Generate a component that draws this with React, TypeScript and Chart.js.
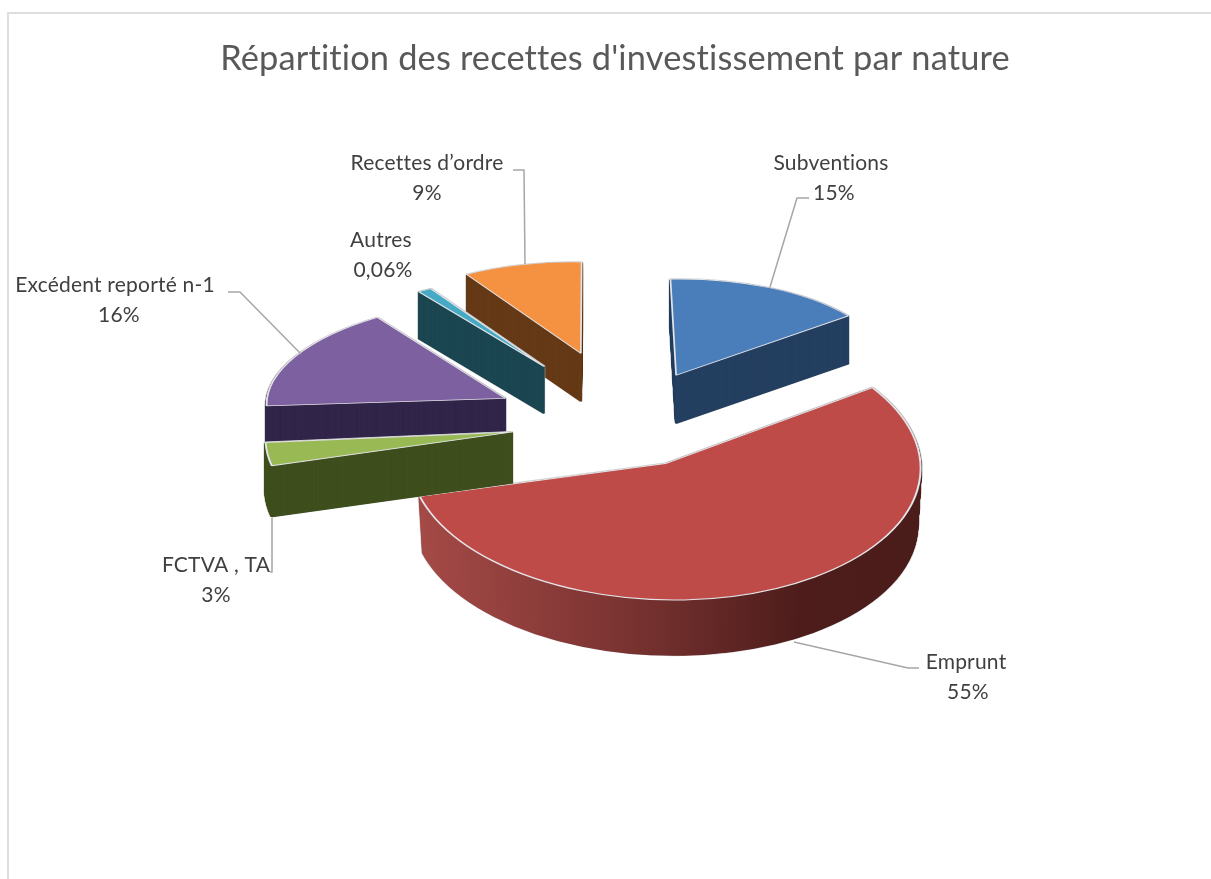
import React, { useEffect, useRef } from "react";
import { Chart, registerables } from "chart.js";

Chart.register(...registerables);

const titleText = "Répartition des recettes d'investissement par nature";
const categories = ["Subventions", "Emprunt", "FCTVA , TA", "Excédent reporté n-1", "Autres", "Recettes d’ordre"];
const percentLabels = ["15%", "55%", "3%", "16%", "0,06%", "9%"];
// Slice sizes as drawn (the "Autres" slice is drawn wider than its printed 0,06%).
const sliceValues = [15, 55, 3, 16, 1, 9];

const topColors = ["#4A7EBB", "#BE4B48", "#98B954", "#7D60A0", "#46AAC4", "#F59242"];
const wallColors = ["#254061", "", "#3F4F1E", "#32264A", "#1C4752", "#663A17"];

// Exploded 3D view of each slice
const explode = [117, 70, 108, 131, 143, 155];
const nudgeX = [-2, 18, 0, 2, 0, -2];
const nudgeY = [-2, -5, -9, -2, 0, 3];
const scaleX = [0.86, 1.02, 0.99, 0.955, 0.9, 0.85];
const flatten = [0.446, 0.535, 0.5, 0.42, 0.4, 0.43];
const shearX = [0.07, 0.05, 0, -0.025, 0, 0.04];
const shearY = [-0.09, -0.015, -0.05, -0.04, 0, 0];
const depth = [48, 57, 51, 48, 47, 48];
const taper = [0, 0.014, 0, 0, 0, 0];
const drawOrder = [5, 4, 0, 3, 1, 2];
const FLAT = 0.55;
const SHIFT_X = 5;

// label placement: [centerX, firstLineY, secondLineCenterX]
const labelPos = [
  [831, 163, 834],
  [966, 662, 968],
  [216, 565, 216],
  [115, 285, 119],
  [381, 240, 383],
  [427, 163, 427],
];
const leaders = [
  [[809, 198], [797, 198], [770, 287]],
  [[919, 668], [908, 668], [794, 642]],
  [[270, 572], [272, 572], [272, 518]],
  [[228, 292], [240, 292], [301, 354]],
  [],
  [[513, 170], [524, 170], [525, 264]],
];

const FONT = "Lato, Carlito, sans-serif";

const pie3d = {
  id: "pie3d",
  beforeDraw(chart: any) {
    chart.ctx.letterSpacing = "0.15px";
  },
  beforeDatasetsDraw(chart: any) {
    const ctx = chart.ctx;
    const arcs = chart.getDatasetMeta(0).data;
    const place = (arc: any, i: number, d: number) => {
      const mid = (arc.startAngle + arc.endAngle) / 2;
      const ax = arc.x + SHIFT_X + Math.cos(mid) * explode[i] + nudgeX[i];
      const ay = arc.y + Math.sin(mid) * explode[i] * FLAT + nudgeY[i];
      const t = 1 - (taper[i] * d) / (depth[i] || 1);
      ctx.translate(ax, ay + d);
      ctx.scale(scaleX[i] * t, scaleX[i] * flatten[i] * t);
      ctx.transform(1, shearY[i], shearX[i], 1, 0, 0);
      ctx.translate(-arc.x, -arc.y);
    };
    const paint = (arc: any, i: number, d: number, opts: any) => {
      const saved = arc.options;
      arc.options = { ...saved, ...opts };
      ctx.save();
      place(arc, i, d);
      arc.draw(ctx);
      ctx.restore();
      arc.options = saved;
    };
    for (const i of drawOrder) {
      const arc = arcs[i];
      let wall: any = wallColors[i];
      if (!wall) {
        wall = ctx.createLinearGradient(arc.x - arc.outerRadius, 0, arc.x + arc.outerRadius, 0);
        wall.addColorStop(0, "#A54A47");
        wall.addColorStop(0.38, "#7C3432");
        wall.addColorStop(0.74, "#4E1D1B");
        wall.addColorStop(1, "#4A1C1A");
      }
      for (let d = depth[i]; d >= 0; d -= 1) {
        paint(arc, i, d, { backgroundColor: "#cfcfcf", borderColor: "#cfcfcf", borderWidth: 4 });
      }
      for (let d = depth[i]; d > 0; d -= 0.5) {
        paint(arc, i, d, { backgroundColor: wall, borderColor: wall, borderWidth: 2.5 });
      }
      paint(arc, i, 0, { backgroundColor: topColors[i], borderColor: "#E4E4E8", borderWidth: 2 });
    }
    return false;
  },
  afterDraw(chart: any) {
    const ctx = chart.ctx;
    ctx.save();
    ctx.letterSpacing = "0.2px";
    ctx.strokeStyle = "#A6A6A6";
    ctx.lineWidth = 1.5;
    for (const pts of leaders) {
      if (!pts.length) continue;
      ctx.beginPath();
      pts.forEach((p: number[], k: number) => (k ? ctx.lineTo(p[0], p[1]) : ctx.moveTo(p[0], p[1])));
      ctx.stroke();
    }
    ctx.fillStyle = "#404040";
    ctx.font = `21px ${FONT}`;
    ctx.textAlign = "center";
    ctx.textBaseline = "middle";
    categories.forEach((c, i) => {
      const [x, y, x2] = labelPos[i];
      ctx.fillText(c, x, y);
      ctx.fillText(percentLabels[i], x2, y + 30);
    });
    ctx.restore();
  },
};

export default function App() {
  const ref = useRef<HTMLCanvasElement>(null);
  useEffect(() => {
    const chart = new Chart(ref.current as HTMLCanvasElement, {
      type: "pie",
      data: {
        labels: categories,
        datasets: [{ data: sliceValues, backgroundColor: topColors, borderWidth: 0 }],
      },
      options: {
        responsive: false,
        animation: false,
        rotation: 2.5,
        radius: 250,
        layout: { padding: { left: 19, right: 0, top: 0, bottom: 102 } },
        plugins: {
          legend: { display: false },
          tooltip: { enabled: false },
          title: {
            display: true,
            text: titleText,
            color: "#595959",
            font: { family: FONT, size: 34.4, weight: "normal" },
            padding: { top: 38, bottom: 10 },
          },
        },
      },
      plugins: [pie3d],
    } as any);
    return () => chart.destroy();
  }, []);
  return (
    <div style={{ position: "fixed", inset: 0, overflow: "hidden", background: "#fff" }}>
      <div
        style={{
          position: "absolute",
          left: 7,
          top: 12,
          width: 1400,
          height: 1000,
          border: "2px solid #DEDEDE",
        }}
      />
      <canvas ref={ref} width={1211} height={879} style={{ position: "absolute", left: 0, top: 0 }} />
    </div>
  );
}
